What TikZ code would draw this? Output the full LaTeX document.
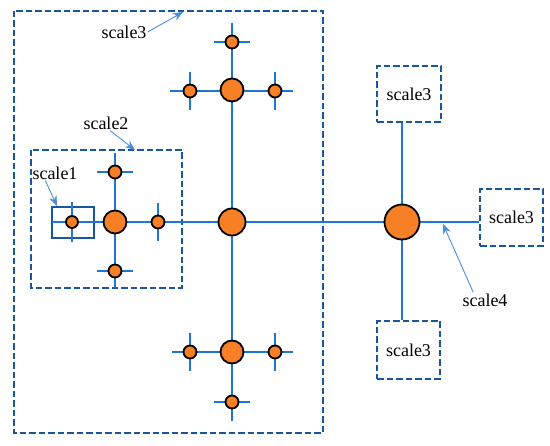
\documentclass[tikz,border=0pt]{standalone}
\usepackage{fontspec}
\setmainfont{Liberation Serif}
\usetikzlibrary{arrows.meta}
\definecolor{linkblue}{RGB}{30,118,210}
\definecolor{boxblue}{RGB}{26,86,158}
\definecolor{dotorange}{RGB}{247,128,38}
\definecolor{callblue}{RGB}{74,142,222}
\tikzset{
  link/.style={linkblue,line width=2.6pt},
  dot/.style={circle,draw=black,line width=1.8pt,fill=dotorange,inner sep=0pt,minimum size=#1},
  dashbox/.style={draw=boxblue,line width=2.3pt,dash pattern=on 6.5pt off 3pt},
  callout/.style={callblue,line width=0.9pt,-{Stealth[length=10pt,width=8pt]}},
  lbl/.style={font=\fontsize{18}{21}\selectfont,inner sep=1pt}
}
\begin{document}
\begin{tikzpicture}[x=1pt,y=-1pt]
\useasboundingbox (0,0) rectangle (550,446);
% dashed frames
\draw[dashbox] (14,11) rectangle (323,433);
\draw[dashbox] (31,150) rectangle (182,288);
\draw[boxblue,line width=2pt] (52,207) rectangle (94,238);
\node[dashbox,lbl,minimum width=64,minimum height=56] (tbox) at (409,94) {scale3};
\node[dashbox,lbl,minimum width=63,minimum height=57] (rbox) at (511.5,217.5) {scale3};
\node[dashbox,lbl,minimum width=63,minimum height=58] (bbox) at (408.5,350) {scale3};
% centres
\coordinate (c0) at (232,222);
\coordinate (u0) at (232,90);
\coordinate (u1) at (190,91);
\coordinate (u2) at (275,91);
\coordinate (u3) at (232,42);
\coordinate (d0) at (232,352);
\coordinate (d1) at (190,352);
\coordinate (d2) at (275,352);
\coordinate (d3) at (232,402);
\coordinate (l0) at (115,222);
\coordinate (l1) at (115,172);
\coordinate (l2) at (115,271);
\coordinate (l3) at (158,222);
\coordinate (l4) at (72,222);
\coordinate (r0) at (402,222);
\coordinate (vtop) at (232,23);
\coordinate (vbot) at (232,421);
\coordinate (hleft) at (52,222);
% links
\draw[link] (vtop) -- (vbot);
\draw[link] (hleft) -- (r0) -- (r0 -| rbox.west);
\draw[link] (r0) -- (r0 |- tbox.south);
\draw[link] (r0) -- (r0 |- bbox.north);
\draw[link] (u1) ++(-20,0) -- (u2) -- ++(18,0);
\draw[link] (d1) ++(-18,0) -- (d2) -- ++(18,0);
\draw[link] (l1) ++(0,-19) -- (l2) -- ++(0,17);
\draw[link] (u3) +(-18,0) -- +(18,0);
\draw[link] (d3) +(-18,0) -- +(18,0);
\draw[link] (l1) +(-18,0) -- +(18,0);
\draw[link] (l2) +(-18,0) -- +(18,0);
\draw[link] (u1) +(0,-19) -- +(0,19);
\draw[link] (u2) +(0,-19) -- +(0,19);
\draw[link] (d1) +(0,-19) -- +(0,19);
\draw[link] (d2) +(0,-19) -- +(0,19);
\draw[link] (l3) +(0,-19) -- +(0,19);
\draw[link] (l4) +(0,-20) -- +(0,20);
% dots
\node[dot=27] (n0) at (c0) {};
\node[dot=23] (nu) at (u0) {};
\node[dot=23] (nd) at (d0) {};
\node[dot=23] (nl) at (l0) {};
\node[dot=35] (nr) at (r0) {};
\foreach \p in {u1,u2,u3,d1,d2,d3,l1,l2,l3} \node[dot=13] at (\p) {};
\node[dot=12] (nsmall) at (l4) {};
% labels
\node[lbl] (s3) at (124,32) {scale3};
\node[lbl] (s2) at (106,123) {scale2};
\node[lbl] (s1) at (55,173) {scale1};
\node[lbl] (s4) at (485,300) {scale4};
\coordinate (a3) at (183,12);
\coordinate (a2) at (135,150);
\coordinate (a1) at (57,206);
\coordinate (a4) at (443,224);
\draw[callout] (s3.east) -- (a3);
\draw[callout] (s2.south) ++(4,0) -- (a2);
\draw[callout] (s1.south west) ++(14,0) -- (a1);
\draw[callout] (s4.north west) ++(12,0) -- (a4);
\end{tikzpicture}
\end{document}
